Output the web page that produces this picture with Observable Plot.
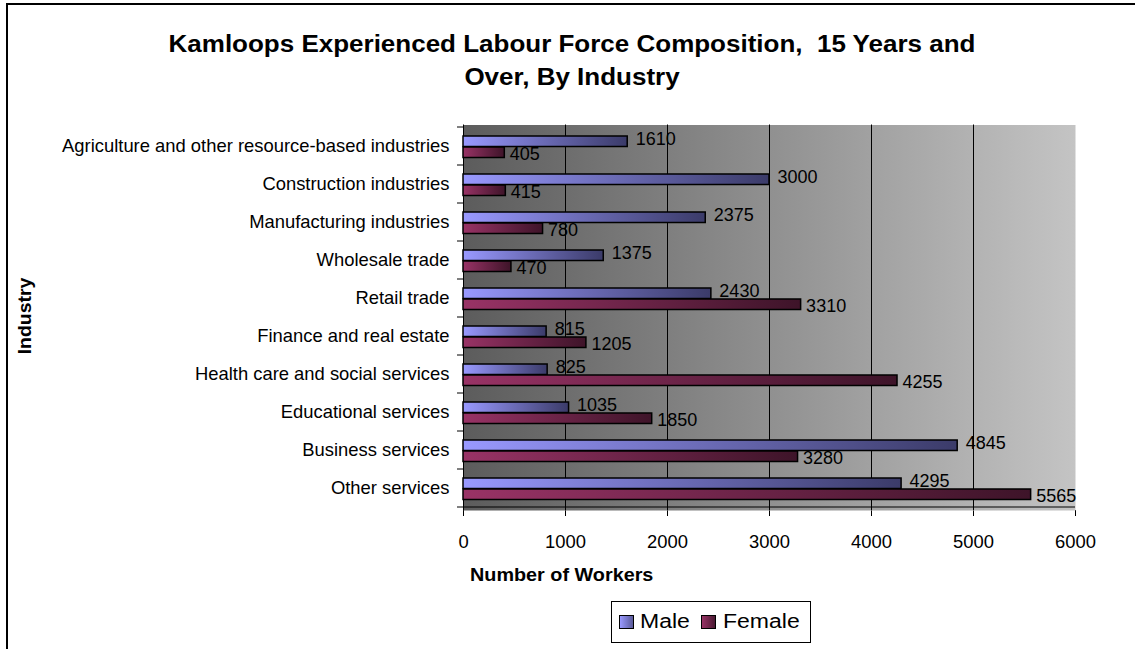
<!DOCTYPE html>
<html>
<head>
<meta charset="utf-8">
<script src="https://cdn.jsdelivr.net/npm/d3@7"></script>
<script src="https://cdn.jsdelivr.net/npm/@observablehq/plot@0.6"></script>
<style>
  html, body { margin: 0; padding: 0; background: #fff; }
  body { width: 1135px; height: 649px; overflow: hidden; position: relative; font-family: "Liberation Sans", Arial, sans-serif; color: #000; }
  #frame { position: absolute; left: 6px; top: 3px; width: 1140px; height: 660px; border-top: 2px solid #000; border-left: 2px solid #000; }
  #chart { position: absolute; left: 0; top: 0; }
  .title { position: absolute; left: 0; width: 1144px; text-align: center; font-weight: bold; font-size: 23px; line-height: 33px; white-space: pre; transform: scaleX(1.13); transform-origin: 572px 0; }
  #xlabel { position: absolute; left: 470px; top: 565px; font-weight: bold; font-size: 18px; line-height: 20px; white-space: nowrap; transform: scaleX(1.1); transform-origin: 0 0; }
  #ylabel { position: absolute; left: 25px; top: 316px; font-weight: bold; font-size: 18px; line-height: 20px; white-space: nowrap; transform: translate(-50%, -50%) rotate(-90deg) scaleX(1.08); }
  #legend { position: absolute; left: 611px; top: 601px; width: 198px; height: 40px; border: 1px solid #000; background: #fff; }
  .sw { position: absolute; top: 13px; width: 13px; height: 12px; border: 1px solid #000; }
  .lt { position: absolute; top: 8px; font-size: 20px; line-height: 22px; white-space: nowrap; transform: scaleX(1.15); transform-origin: 0 0; }
</style>
</head>
<body>
<div id="frame"></div>
<div id="chart"></div>
<div class="title" id="t1" style="top:28px">Kamloops Experienced Labour Force Composition,  15 Years and</div>
<div class="title" id="t2" style="top:61px">Over, By Industry</div>
<div id="xlabel">Number of Workers</div>
<div id="ylabel">Industry</div>
<div id="legend"></div>
<script>
// ---- data ----
const industries = [
  "Agriculture and other resource-based industries",
  "Construction industries",
  "Manufacturing industries",
  "Wholesale trade",
  "Retail trade",
  "Finance and real estate",
  "Health care and social services",
  "Educational services",
  "Business services",
  "Other services"
];
const male   = [1610, 3000, 2375, 1375, 2430, 815, 825, 1035, 4845, 4295];
const female = [405, 415, 780, 470, 3310, 1205, 4255, 1850, 3280, 5565];
const seriesNames = ["Male", "Female"];
const xTicks = [0, 1000, 2000, 3000, 4000, 5000, 6000];

// ---- tables ----
const maleRows = industries.map((d, i) => ({industry: d, value: male[i]}));
const femaleRows = industries.map((d, i) => ({industry: d, value: female[i]}));
const gridTicks = xTicks.filter(v => v > xTicks[0] && v < xTicks[xTicks.length - 1]);

// gradient definitions
function defsMark() {
  const defs = d3.create("svg:defs");
  const add = (id, c0, c1) => {
    const g = defs.append("linearGradient").attr("id", id)
      .attr("x1", "0").attr("x2", "1").attr("y1", "0").attr("y2", "0");
    g.append("stop").attr("offset", "0").attr("stop-color", c0);
    g.append("stop").attr("offset", "1").attr("stop-color", c1);
  };
  add("gBg", "#5c5c5c", "#c4c4c4");
  add("gMale", "#9999ff", "#3b3b69");
  add("gFemale", "#993366", "#3e1429");
  return defs.node();
}

// band boundary ticks on the y axis + bottom axis line
function boundaryMark(index, scales, values, dims) {
  const g = d3.create("svg:g").attr("stroke", "#000").attr("stroke-width", 1);
  const x = scales.x, y = scales.y;
  const dom = y.domain();
  const bw = y.bandwidth ? y.bandwidth() : (dims.height - dims.marginTop - dims.marginBottom) / dom.length;
  const ys = dom.map(d => y(d));
  ys.push(y(dom[dom.length - 1]) + bw);
  const x0 = x(xTicks[0]);
  for (const yy of ys) {
    g.append("line").attr("x1", x0 - 6).attr("x2", x0).attr("y1", yy).attr("y2", yy);
  }
  const yb = ys[ys.length - 1];
  g.append("line").attr("x1", x0).attr("x2", x(xTicks[xTicks.length - 1])).attr("y1", yb).attr("y2", yb);
  return g.node();
}

const chart = Plot.plot({
  width: 1135,
  height: 649,
  marginLeft: 463,
  marginRight: 60,
  marginTop: 124.5,
  marginBottom: 139,
  style: {fontFamily: "'Liberation Sans', Arial, sans-serif", fontSize: "18.4px", color: "#000", background: "transparent"},
  x: {domain: [xTicks[0], xTicks[xTicks.length - 1]], ticks: xTicks, tickSize: 6, tickPadding: 18, tickFormat: d => String(d), label: null},
  y: {domain: industries, padding: 0, tickSize: 0, tickPadding: 14, label: null},
  marks: [
    defsMark,
    Plot.frame({fill: "url(#gBg)", stroke: "none"}),
    Plot.ruleX(gridTicks, {stroke: "#000", strokeWidth: 1}),
    Plot.ruleX([xTicks[0]], {stroke: "#000", strokeWidth: 1}),
    boundaryMark,
    Plot.barX(maleRows, {x: "value", y: "industry", fill: "url(#gMale)", stroke: "#000", strokeWidth: 1.5, insetTop: 9, insetBottom: 18.5}),
    Plot.barX(femaleRows, {x: "value", y: "industry", fill: "url(#gFemale)", stroke: "#000", strokeWidth: 1.5, insetTop: 20, insetBottom: 7.5}),
    Plot.text(maleRows, {x: "value", y: "industry", text: d => String(d.value), textAnchor: "start", dx: 8, dy: -6.8, fontSize: 18, fill: "#000"}),
    Plot.text(femaleRows, {x: "value", y: "industry", text: d => String(d.value), textAnchor: "start", dx: 5, dy: 7.7, fontSize: 18, fill: "#000"})
  ]
});
document.getElementById("chart").appendChild(chart);

// legend
const legend = document.getElementById("legend");
const swGrad = {Male: "linear-gradient(to right, #9999ff, #5a5a99)", Female: "linear-gradient(to right, #993366, #4a1a33)"};
const swLeft = [7, 89];
const txLeft = [28, 111];
seriesNames.forEach((name, i) => {
  const s = document.createElement("div");
  s.className = "sw";
  s.style.left = swLeft[i] + "px";
  s.style.background = swGrad[name];
  legend.appendChild(s);
  const t = document.createElement("div");
  t.className = "lt";
  t.style.left = txLeft[i] + "px";
  t.textContent = name;
  legend.appendChild(t);
});
</script>
</body>
</html>
